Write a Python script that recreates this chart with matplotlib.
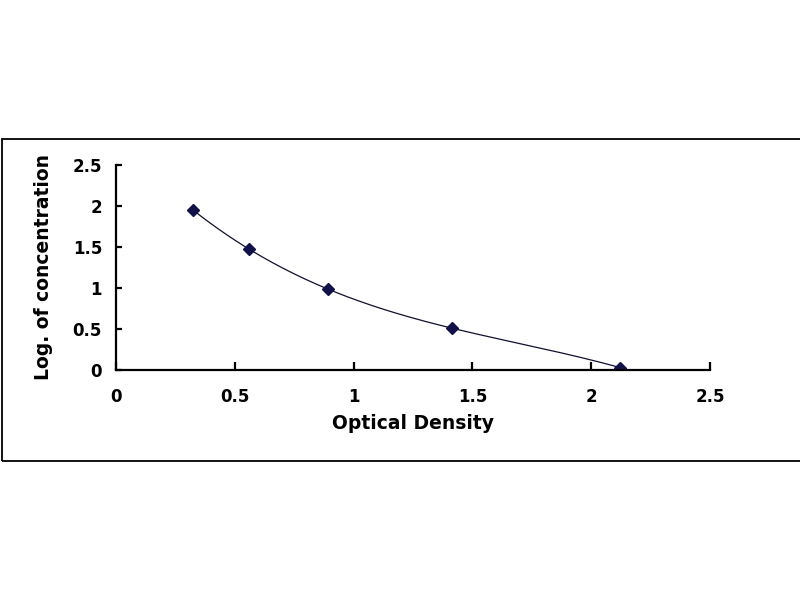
import numpy as np
import matplotlib
matplotlib.use("Agg")
import matplotlib.pyplot as plt
from matplotlib.patches import Rectangle

# standard curve points
od = [0.325, 0.561, 0.891, 1.413, 2.121]
log_conc = [1.95, 1.47, 0.99, 0.51, 0.03]

xticks = [0, 0.5, 1, 1.5, 2, 2.5]
yticks = [0, 0.5, 1, 1.5, 2, 2.5]
xtick_labels = ["0", "0.5", "1", "1.5", "2", "2.5"]
ytick_labels = ["0", "0.5", "1", "1.5", "2", "2.5"]

plt.rcParams['font.family'] = ['DejaVu Sans']
plt.rcParams['font.weight'] = 'bold'

fig = plt.figure(figsize=(8, 6), dpi=100)
fig.patch.set_facecolor('white')

# outer frame (right side runs off the image)
fig.add_artist(Rectangle((2/800, 139/600), 1.0, 322/600, transform=fig.transFigure,
                         fill=False, edgecolor='black', linewidth=1.3, clip_on=False))

ax = fig.add_axes([116/800, 230/600, 594/800, 205/600])

# trend line (polynomial fit, like the spreadsheet trendline)
coef = np.polyfit(od, log_conc, 3)
xs = np.linspace(min(od), max(od), 200)
ax.plot(xs, np.polyval(coef, xs), color='#101030', linewidth=0.9)
ax.plot(od, log_conc, linestyle='none', marker='D', markersize=6.5,
        color='#12124a', markeredgecolor='#12124a')

ax.set_xlim(0, 2.5)
ax.set_ylim(0, 2.5)
ax.set_xticks(xticks)
ax.set_xticklabels(xtick_labels)
ax.set_yticks(yticks)
ax.set_yticklabels(ytick_labels)

for s in ['top', 'right']:
    ax.spines[s].set_visible(False)
for s in ['left', 'bottom']:
    ax.spines[s].set_linewidth(1.6)

ax.tick_params(axis='x', direction='in', length=6, width=1.6, pad=13, labelsize=12)
ax.tick_params(axis='y', direction='in', length=4.5, width=1.6, pad=10, labelsize=12)

ax.set_xlabel("Optical Density", fontsize=13.5, fontweight='bold', labelpad=6)
ax.set_ylabel("Log. of concentration", fontsize=13.5, fontweight='bold', labelpad=14)

fig.savefig("out.png", dpi=100, facecolor='white')
